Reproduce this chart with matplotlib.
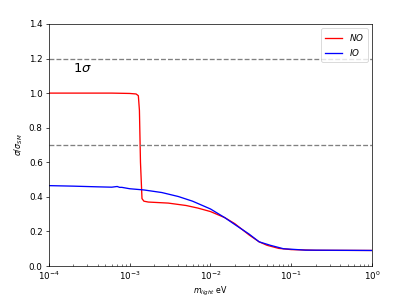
import numpy as np
import matplotlib
matplotlib.use("Agg")
import matplotlib.pyplot as plt

# 데이터
m_no = [1e-4, 3e-4, 6e-4, 1e-3, 1.2e-3, 1.28e-3, 1.32e-3, 1.36e-3, 1.42e-3, 1.5e-3, 1.7e-3,
        3e-3, 5e-3, 7e-3, 1e-2, 1.5e-2, 2e-2, 3e-2, 4e-2, 5e-2, 7e-2, 1e-1, 2e-1, 1.0]
s_no = [1.0, 1.0, 1.0, 0.998, 0.995, 0.985, 0.9, 0.6, 0.39, 0.375, 0.37,
        0.364, 0.35, 0.335, 0.315, 0.28, 0.245, 0.18, 0.14, 0.12, 0.102, 0.095, 0.091, 0.09]

m_io = [1e-4, 2e-4, 4e-4, 6e-4, 7e-4, 7.5e-4, 8e-4, 1e-3, 1.5e-3, 2.5e-3, 4e-3, 6e-3, 1e-2,
        1.5e-2, 2e-2, 3e-2, 4e-2, 5.5e-2, 8e-2, 1.5e-1, 1.0]
s_io = [0.465, 0.462, 0.458, 0.456, 0.46, 0.455, 0.455, 0.447, 0.44, 0.425, 0.402, 0.375, 0.33,
        0.28, 0.24, 0.185, 0.14, 0.12, 0.1, 0.092, 0.09]

sigma_lines = [1.2, 0.7]

fig, ax = plt.subplots(figsize=(6.4, 4.8), dpi=63.125)
fig.subplots_adjust(left=0.121, right=0.921, bottom=0.122, top=0.921)

ax.plot(m_no, s_no, color="red", lw=1.5, label="$NO$")
ax.plot(m_io, s_io, color="blue", lw=1.5, label="$IO$")
for y in sigma_lines:
    ax.axhline(y, color="grey", ls="--", lw=1.5)

ax.text(2e-4, 1.12, r"$1\sigma$", fontsize=15)

ax.set_xscale("log")
ax.set_xlim(1e-4, 1)
ax.set_ylim(0, 1.4)
ax.tick_params(axis="x", which="both", direction="in")
ax.set_xlabel(r"$m_{light}$ eV", fontsize=9)
ax.set_ylabel(r"$\sigma/\sigma_{SM}$", fontsize=9)
ax.legend(loc="upper right")

fig.savefig("out.png")
